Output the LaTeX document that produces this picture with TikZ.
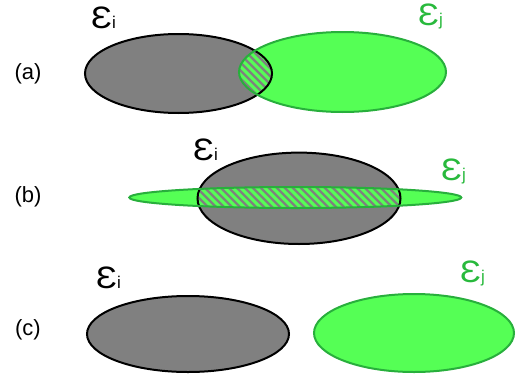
\documentclass[tikz,border=0pt]{standalone}
\usepackage{fontspec}
\setmainfont{Liberation Sans}
\definecolor{gfill}{RGB}{85,255,85}
\definecolor{gline}{RGB}{40,175,60}
\definecolor{gtext}{RGB}{40,185,60}
\definecolor{greyfill}{RGB}{128,128,128}
\newcommand{\bigE}[1]{\scalebox{1.12}[1]{\fontsize{31}{31}\selectfont Ɛ}{\fontsize{17}{17}\selectfont #1}}
\begin{document}
\begin{tikzpicture}[x=1pt,y=-1pt,
  greyset/.style={draw=black,line width=2pt},
  greenset/.style={draw=gline,line width=2pt},
  hatchline/.style={draw=gfill,line width=2.9pt},
  labi/.style={anchor=base west,inner sep=0pt,text=black},
  labj/.style={anchor=base west,inner sep=0pt,text=gtext},
  tag/.style={inner sep=0pt,font=\fontsize{22}{22}\selectfont}]
\useasboundingbox (0,0) rectangle (521,380);
% ---------- (a) ----------
\fill[greyfill] (178.5,73.5) ellipse [x radius=93.5pt, y radius=39.5pt];
\fill[gfill] (342.5,72) ellipse [x radius=103.5pt, y radius=40pt];
\begin{scope}
  \clip (178.5,73.5) ellipse [x radius=93.5pt, y radius=39.5pt];
  \clip (342.5,72) ellipse [x radius=103.5pt, y radius=40pt];
  \fill[greyfill] (200,20) rectangle (300,130);
  \foreach \k in {-15,...,15}
    \draw[hatchline] ({255+8*\k-70},3) -- ({255+8*\k+70},143);
\end{scope}
\draw[greyset] (178.5,73.5) ellipse [x radius=93.5pt, y radius=39.5pt];
\draw[greenset] (342.5,72) ellipse [x radius=103.5pt, y radius=40pt];
\node[tag] (ta) at (28,74) {(a)};
\node[labi] (ai) at (91,28) {\bigE{i}};
\node[labj] (aj) at (418,25) {\bigE{j}};
% ---------- (b) ----------
\fill[greyfill] (299,198.3) ellipse [x radius=101.5pt, y radius=45.7pt];
\fill[gfill] (295.3,197.5) ellipse [x radius=166pt, y radius=10.5pt];
\begin{scope}
  \clip (299,198.3) ellipse [x radius=101.5pt, y radius=45.7pt];
  \clip (295.3,197.5) ellipse [x radius=166pt, y radius=10.5pt];
  \fill[greyfill] (190,180) rectangle (410,215);
  \foreach \k in {-20,...,20}
    \draw[hatchline] ({299+8*\k-30},168) -- ({299+8*\k+30},228);
\end{scope}
\draw[greyset] (299,198.3) ellipse [x radius=101.5pt, y radius=45.7pt];
\draw[greenset] (295.3,197.5) ellipse [x radius=166pt, y radius=10.5pt];
\node[tag] (tb) at (28,197) {(b)};
\node[labi] (bi) at (193,160) {\bigE{i}};
\node[labj] (bj) at (441,180) {\bigE{j}};
% ---------- (c) ----------
\fill[greyfill] (188,334) ellipse [x radius=101pt, y radius=38pt];
\draw[greyset] (188,334) ellipse [x radius=101pt, y radius=38pt];
\fill[gfill] (414,333) ellipse [x radius=100pt, y radius=39pt];
\draw[greenset] (414,333) ellipse [x radius=100pt, y radius=39pt];
\node[tag] (tc) at (28,330) {(c)};
\node[labi] (ci) at (96,288) {\bigE{i}};
\node[labj] (cj) at (460,282) {\bigE{j}};
\end{tikzpicture}
\end{document}
